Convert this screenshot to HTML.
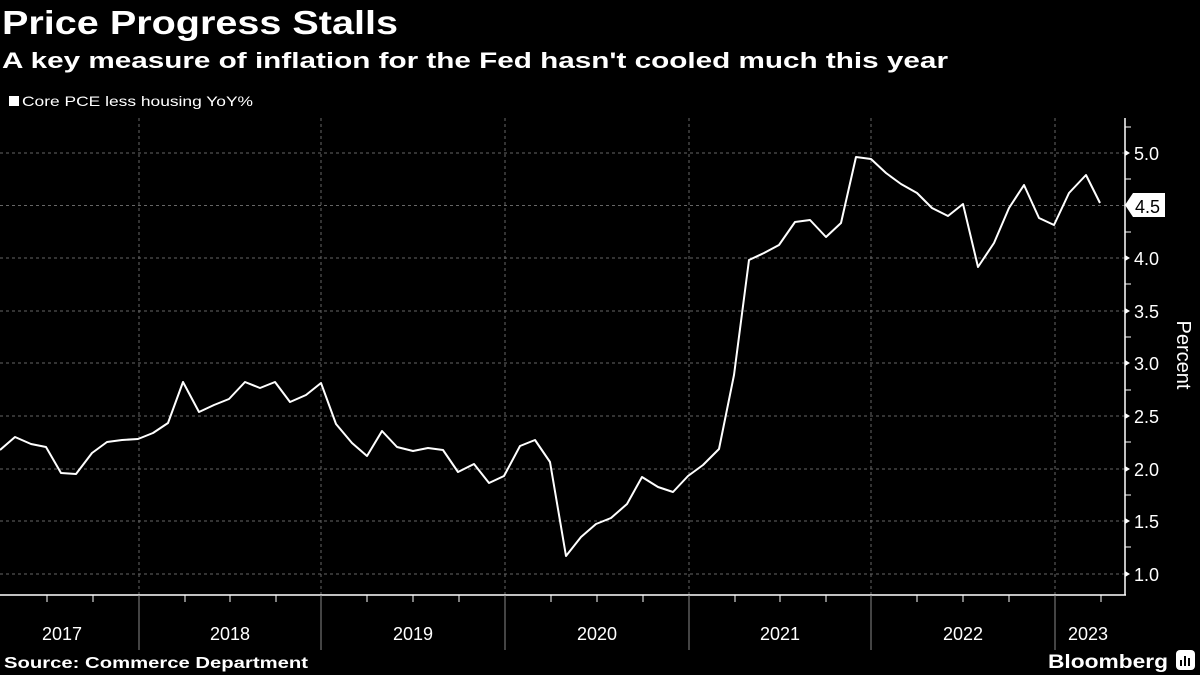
<!DOCTYPE html>
<html><head><meta charset="utf-8"><style>
html,body{margin:0;padding:0;background:#000;}
svg{display:block;font-family:"Liberation Sans",sans-serif;}
</style></head><body>
<svg width="1200" height="675" viewBox="0 0 1200 675" xmlns="http://www.w3.org/2000/svg">
<rect width="1200" height="675" fill="#000"/>
<text x="2" y="34" fill="#fff" font-size="33" font-weight="bold" textLength="396" lengthAdjust="spacingAndGlyphs">Price Progress Stalls</text>
<text x="2" y="68" fill="#fff" font-size="22" font-weight="bold" textLength="946" lengthAdjust="spacingAndGlyphs">A key measure of inflation for the Fed hasn't cooled much this year</text>
<rect x="9" y="96" width="10" height="10" fill="#fff"/>
<text x="22" y="106" fill="#fff" font-size="14" textLength="231" lengthAdjust="spacingAndGlyphs">Core PCE less housing YoY%</text>
<g stroke="#666" stroke-width="1" stroke-dasharray="3,3">
<line x1="0" y1="153" x2="1125" y2="153"/><line x1="0" y1="205.5" x2="1125" y2="205.5"/>
<line x1="0" y1="258" x2="1125" y2="258"/><line x1="0" y1="311" x2="1125" y2="311"/>
<line x1="0" y1="363" x2="1125" y2="363"/><line x1="0" y1="416" x2="1125" y2="416"/>
<line x1="0" y1="469" x2="1125" y2="469"/><line x1="0" y1="521" x2="1125" y2="521"/>
<line x1="0" y1="574" x2="1125" y2="574"/>
<line x1="139" y1="118" x2="139" y2="595"/><line x1="321" y1="118" x2="321" y2="595"/>
<line x1="505" y1="118" x2="505" y2="595"/><line x1="689" y1="118" x2="689" y2="595"/>
<line x1="871" y1="118" x2="871" y2="595"/><line x1="1055" y1="118" x2="1055" y2="595"/>
</g>
<g stroke="#fff" stroke-width="1.5" fill="none">
<line x1="0" y1="595" x2="1126" y2="595"/>
<line x1="1125" y1="118" x2="1125" y2="595"/>
</g>
<g stroke="#888" stroke-width="1">
<line x1="139" y1="595" x2="139" y2="650"/><line x1="321" y1="595" x2="321" y2="650"/>
<line x1="505" y1="595" x2="505" y2="650"/><line x1="689" y1="595" x2="689" y2="650"/>
<line x1="871" y1="595" x2="871" y2="650"/><line x1="1055" y1="595" x2="1055" y2="650"/>
</g>
<g stroke="#fff" stroke-width="1">
<line x1="1125" y1="127" x2="1131" y2="127"/><line x1="1125" y1="179" x2="1131" y2="179"/>
<line x1="1125" y1="232" x2="1131" y2="232"/><line x1="1125" y1="284" x2="1131" y2="284"/>
<line x1="1125" y1="337" x2="1131" y2="337"/><line x1="1125" y1="390" x2="1131" y2="390"/>
<line x1="1125" y1="442" x2="1131" y2="442"/><line x1="1125" y1="495" x2="1131" y2="495"/>
<line x1="1125" y1="547" x2="1131" y2="547"/>
<line x1="47" y1="595" x2="47" y2="602"/><line x1="93" y1="595" x2="93" y2="602"/>
<line x1="185" y1="595" x2="185" y2="602"/><line x1="230" y1="595" x2="230" y2="602"/><line x1="276" y1="595" x2="276" y2="602"/>
<line x1="367" y1="595" x2="367" y2="602"/><line x1="413" y1="595" x2="413" y2="602"/><line x1="459" y1="595" x2="459" y2="602"/>
<line x1="551" y1="595" x2="551" y2="602"/><line x1="597" y1="595" x2="597" y2="602"/><line x1="643" y1="595" x2="643" y2="602"/>
<line x1="735" y1="595" x2="735" y2="602"/><line x1="780" y1="595" x2="780" y2="602"/><line x1="826" y1="595" x2="826" y2="602"/>
<line x1="917" y1="595" x2="917" y2="602"/><line x1="963" y1="595" x2="963" y2="602"/><line x1="1009" y1="595" x2="1009" y2="602"/>
<line x1="1101" y1="595" x2="1101" y2="602"/>
</g>
<g fill="#fff" font-size="18">
<path d="M1125 150 l5 3 l-5 3z"/><text x="1134" y="160">5.0</text>
<path d="M1125 255 l5 3 l-5 3z"/><text x="1134" y="265">4.0</text>
<path d="M1125 308 l5 3 l-5 3z"/><text x="1134" y="318">3.5</text>
<path d="M1125 360 l5 3 l-5 3z"/><text x="1134" y="370">3.0</text>
<path d="M1125 413 l5 3 l-5 3z"/><text x="1134" y="423">2.5</text>
<path d="M1125 466 l5 3 l-5 3z"/><text x="1134" y="476">2.0</text>
<path d="M1125 518 l5 3 l-5 3z"/><text x="1134" y="528">1.5</text>
<path d="M1125 571 l5 3 l-5 3z"/><text x="1134" y="581">1.0</text>
<path d="M1125 205 l8 -12 h32 v24 h-32z"/>
<text x="1135" y="213" fill="#000">4.5</text>
</g>
<text transform="translate(1177,355) rotate(90)" fill="#fff" font-size="20" text-anchor="middle">Percent</text>
<g fill="#fff" font-size="18" text-anchor="middle">
<text x="62" y="640">2017</text><text x="230" y="640">2018</text><text x="413" y="640">2019</text>
<text x="597" y="640">2020</text><text x="780" y="640">2021</text><text x="963" y="640">2022</text>
<text x="1088" y="640">2023</text>
</g>
<polyline fill="none" stroke="#fff" stroke-width="2" stroke-linejoin="round" points="0,450 15,437 31,444 46,447 61,473 76,474 92,453 107,442 122,440 138,439 153,433 168,423 183,382 199,412 214,405 229,399 245,382 260,388 275,382 290,402 306,395 321,383 336,424 352,443 367,456 382,431 397,447 413,451 428,448 443,450 458,472 474,464 489,483 504,476 520,446 535,440 550,462 566,556 581,537 596,524 611,518 627,504 642,477 658,487 673,492 688,476 703,465 719,449 734,375 749,260 764,253 779,245 795,222 810,220 826,237 841,223 856,157 871,159 886,173 901,184 917,193 932,208 948,216 963,204 978,267 994,243 1009,208 1024,185 1039,218 1054,225 1069,193 1086,175 1100,203"/>
<text x="4" y="668" fill="#fff" font-size="16" font-weight="bold" textLength="304" lengthAdjust="spacingAndGlyphs">Source: Commerce Department</text>
<text x="1048" y="668" fill="#fff" font-size="19" font-weight="bold" textLength="120" lengthAdjust="spacingAndGlyphs">Bloomberg</text>
<rect x="1176" y="650" width="19" height="20" rx="4" fill="#fff"/>
<g fill="#000"><rect x="1180" y="660" width="2" height="6"/><rect x="1184" y="656" width="2" height="10"/><rect x="1188" y="658" width="2" height="8"/></g>
</svg>
</body></html>
